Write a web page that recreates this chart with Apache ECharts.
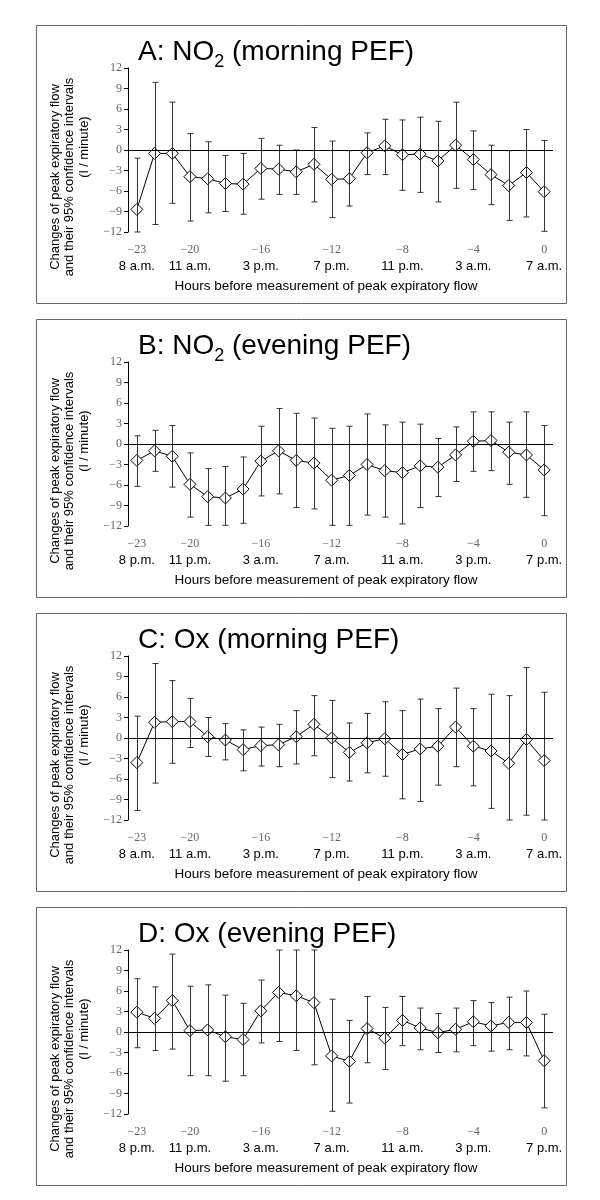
<!DOCTYPE html>
<html>
<head>
<meta charset="utf-8">
<script src="https://cdn.jsdelivr.net/npm/echarts@6/dist/echarts.min.js"></script>
<style>
  html, body { margin: 0; padding: 0; background: #fff; }
  #main { width: 600px; height: 1200px; }
</style>
</head>
<body>
<div id="main"></div>
<script>
// hours before PEF measurement
var hours = ['-23','-22','-21','-20','-19','-18','-17','-16','-15','-14','-13','-12',
             '-11','-10','-9','-8','-7','-6','-5','-4','-3','-2','-1','0'];
var labelIdx = [0, 3, 7, 11, 15, 19, 23];
var morningTimes = ['8 a.m.', '11 a.m.', '3 p.m.', '7 p.m.', '11 p.m.', '3 a.m.', '7 a.m.'];
var eveningTimes = ['8 p.m.', '11 p.m.', '3 a.m.', '7 a.m.', '11 a.m.', '3 p.m.', '7 p.m.'];

// A: NO2 morning
var aEst = [-8.7,-0.5,-0.5,-3.9,-4.2,-4.9,-5.0,-2.7,-2.8,-3.2,-2.1,-4.3,-4.2,-0.4,0.6,-0.7,-0.6,-1.6,0.7,-1.4,-3.6,-5.2,-3.3,-6.1];
var aHi  = [-1.2,9.9,7.0,2.4,1.2,-0.8,-0.5,1.7,0.7,0.0,3.3,1.3,-0.1,2.5,4.5,4.4,4.8,4.2,7.0,2.8,0.7,-0.1,3.0,1.4];
var aLo  = [-12,-10.9,-7.8,-10.4,-9.2,-9.0,-9.4,-7.2,-6.5,-6.5,-7.6,-9.9,-8.2,-3.6,-3.6,-5.9,-6.2,-7.6,-5.6,-5.8,-8.0,-10.3,-9.8,-11.9];
// B: NO2 evening
var bEst = [-2.4,-1.0,-1.8,-5.9,-7.7,-7.9,-6.6,-2.5,-1.0,-2.4,-2.8,-5.3,-4.6,-3.0,-3.9,-4.2,-3.2,-3.4,-1.6,0.4,0.5,-1.2,-1.6,-3.8];
var bHi  = [1.2,2.0,2.7,-1.3,-3.6,-3.3,-1.9,2.6,5.2,4.5,3.8,2.3,2.6,4.4,2.8,3.2,2.9,0.8,2.5,4.7,4.7,3.2,4.7,2.7];
var bLo  = [-6.2,-4.0,-6.3,-10.7,-11.9,-11.9,-11.6,-7.6,-7.3,-9.3,-9.5,-11.9,-11.9,-10.4,-10.7,-11.7,-9.3,-7.7,-5.5,-4.0,-3.9,-5.9,-7.8,-10.5];
// C: Ox morning
var cEst = [-3.6,2.3,2.4,2.4,0.2,-0.3,-1.7,-1.1,-1.0,0.2,2.0,0.0,-2.1,-0.7,-0.1,-2.4,-1.6,-1.2,1.6,-1.2,-1.9,-3.7,-0.2,-3.3];
var cHi  = [3.2,10.9,8.4,5.8,3.0,2.1,1.2,1.6,2.0,4.0,6.2,5.5,2.2,3.6,5.3,4.0,5.7,4.3,7.3,4.3,6.4,6.2,10.3,6.7];
var cLo  = [-10.6,-6.6,-3.7,-1.4,-2.7,-3.2,-4.8,-4.1,-4.2,-3.8,-2.6,-5.8,-6.3,-5.1,-5.6,-8.9,-9.3,-6.9,-4.2,-7.0,-10.3,-12,-11.3,-12];
// D: Ox evening
var dEst = [2.9,2.0,4.6,0.2,0.3,-0.7,-1.1,3.1,5.8,5.3,4.3,-3.5,-4.3,0.5,-0.9,1.7,0.6,-0.1,0.4,1.5,0.9,1.4,1.4,-4.2];
var dHi  = [7.8,6.6,11.4,6.7,6.9,5.4,4.2,7.6,12,12,12,4.8,1.7,5.2,3.6,5.2,3.5,2.7,3.5,4.6,4.3,5.1,6.0,2.6];
var dLo  = [-2.3,-2.7,-2.5,-6.4,-6.4,-7.2,-6.4,-1.6,-1.4,-2.7,-4.8,-11.6,-10.4,-4.5,-5.5,-2.0,-2.6,-3.0,-2.9,-2.0,-2.8,-2.6,-3.5,-11.1];

var panels = [
  {pre: 'A: NO', sub: '2', post: ' (morning PEF)', est: aEst, hi: aHi, lo: aLo, times: morningTimes},
  {pre: 'B: NO', sub: '2', post: ' (evening PEF)', est: bEst, hi: bHi, lo: bLo, times: eveningTimes},
  {pre: 'C: Ox', sub: '', post: ' (morning PEF)', est: cEst, hi: cHi, lo: cLo, times: morningTimes},
  {pre: 'D: Ox', sub: '', post: ' (evening PEF)', est: dEst, hi: dHi, lo: dLo, times: eveningTimes}
];

var sans = '"Liberation Sans", Arial, sans-serif';
var serif = '"Liberation Serif", serif';
var step = 294;

var chart = echarts.init(document.getElementById('main'), null, {renderer: 'canvas'});

var grids = [], xAxes = [], yAxes = [], series = [], titles = [], graphics = [];

panels.forEach(function (p, k) {
  var off = k * step;
  grids.push({left: 128, width: 425, top: 68 + off, height: 164});

  xAxes.push({
    type: 'category', gridIndex: k, data: hours, boundaryGap: true,
    axisLine: {show: false}, axisTick: {show: false},
    axisLabel: {
      margin: 10,
      interval: function (i) { return labelIdx.indexOf(i) >= 0; },
      formatter: function (v, i) {
        var j = labelIdx.indexOf(i);
        return '{n|' + v.replace('-', '\u2212') + '}\n{t|' + p.times[j] + '}';
      },
      rich: {
        n: {fontFamily: serif, fontSize: 12, color: '#666', lineHeight: 16},
        t: {fontFamily: sans, fontSize: 13, color: '#000', lineHeight: 16}
      }
    }
  });

  yAxes.push({
    type: 'value', gridIndex: k, min: -12, max: 12, interval: 3,
    axisLine: {show: true, lineStyle: {color: '#000', width: 1}},
    axisTick: {show: true, inside: false, length: 4, lineStyle: {color: '#000'}},
    splitLine: {show: false},
    axisLabel: {
      margin: 6, fontFamily: serif, fontSize: 12, color: '#666',
      formatter: function (v) { return String(v).replace('-', '\u2212'); }
    }
  });

  series.push({
    type: 'line', xAxisIndex: k, yAxisIndex: k, data: p.est,
    symbol: 'diamond', symbolSize: [12, 12], showAllSymbol: true, z: 2,
    lineStyle: {color: '#000', width: 1},
    itemStyle: {color: '#fff', borderColor: '#000', borderWidth: 1},
    markLine: {
      silent: true, symbol: 'none', label: {show: false},
      lineStyle: {color: '#000', width: 1, type: 'solid'},
      data: [{yAxis: 0}]
    }
  });

  var barData = p.est.map(function (v, i) { return [i, p.lo[i], p.hi[i]]; });
  series.push({
    type: 'custom', xAxisIndex: k, yAxisIndex: k, data: barData, z: 3,
    encode: {x: 0, y: [1, 2]},
    renderItem: function (params, api) {
      var top = api.coord([api.value(0), api.value(2)]);
      var bot = api.coord([api.value(0), api.value(1)]);
      var x = Math.round(top[0]) + 0.5;
      var st = {stroke: '#333', lineWidth: 1};
      return {
        type: 'group',
        children: [
          {type: 'line', shape: {x1: x, y1: top[1], x2: x, y2: bot[1]}, style: st},
          {type: 'line', shape: {x1: x - 3, y1: top[1], x2: x + 3, y2: top[1]}, style: st},
          {type: 'line', shape: {x1: x - 3, y1: bot[1], x2: x + 3, y2: bot[1]}, style: st}
        ]
      };
    }
  });

  var txt = p.sub ? '{a|' + p.pre + '}{s|' + p.sub + '}{a|' + p.post + '}' : '{a|' + p.pre + p.post + '}';
  titles.push({
    text: txt, left: 133, top: 32 + off,
    textStyle: {
      fontWeight: 'normal',
      rich: {
        a: {fontFamily: sans, fontSize: 28, fontWeight: 'normal', color: '#000', lineHeight: 30},
        s: {fontFamily: sans, fontSize: 18, fontWeight: 'normal', color: '#000', lineHeight: 30,
            verticalAlign: 'bottom', padding: [0, 0, -4, 0]}
      }
    }
  });

  // panel frame
  graphics.push({
    type: 'rect', shape: {x: 36.5, y: 25.5 + off, width: 530, height: 278},
    style: {fill: 'none', stroke: '#666', lineWidth: 1}, silent: true
  });

  // y axis title (three rotated lines)
  var yLines = [
    {t: 'Changes of peak expiratory flow', x: 55, y: 177},
    {t: 'and their 95% confidence intervals', x: 69, y: 177},
    {t: '(l / minute)', x: 84, y: 147}
  ];
  yLines.forEach(function (l) {
    graphics.push({
      type: 'text', x: l.x, y: l.y + off, rotation: Math.PI / 2, silent: true,
      style: {text: l.t, fontFamily: sans, fontSize: 13, fill: '#000', align: 'center', verticalAlign: 'middle'}
    });
  });

  // x axis title
  graphics.push({
    type: 'text', x: 326, y: 286 + off, silent: true,
    style: {text: 'Hours before measurement of peak expiratory flow', fontFamily: sans, fontSize: 13.5,
            fill: '#000', align: 'center', verticalAlign: 'middle'}
  });
});

chart.setOption({
  animation: false,
  backgroundColor: '#fff',
  title: titles,
  grid: grids,
  xAxis: xAxes,
  yAxis: yAxes,
  series: series,
  graphic: graphics
});
</script>
</body>
</html>
